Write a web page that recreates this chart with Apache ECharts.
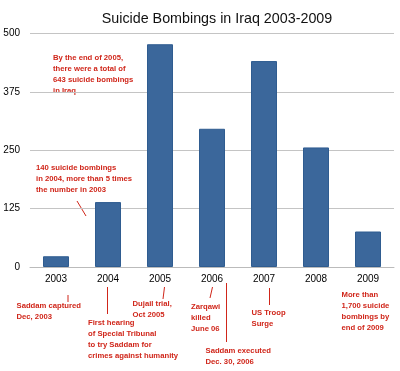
<!DOCTYPE html>
<html>
<head>
<meta charset="utf-8">
<script src="https://cdn.jsdelivr.net/npm/echarts@6/dist/echarts.min.js"></script>
<style>
html,body{margin:0;padding:0;background:#fff;}
#c{width:400px;height:371px;}
</style>
</head>
<body>
<div id="c"></div>
<script>
var categories = ['2003', '2004', '2005', '2006', '2007', '2008', '2009'];
var bombings = [23, 139, 477, 296, 441, 256, 76];
var yTicks = [0, 125, 250, 375, 500];
var titleText = 'Suicide Bombings in Iraq 2003-2009';

var noteTexts = [
  'By the end of 2005,\nthere were a total of\n643 suicide bombings\nin Iraq',
  '140 suicide bombings\nin 2004, more than 5 times\nthe number in 2003',
  'Saddam captured\nDec, 2003',
  'First hearing\nof Special Tribunal\nto try Saddam for\ncrimes against humanity',
  'Dujail trial,\nOct 2005',
  'Zarqawi\nkilled\nJune 06',
  'Saddam executed\nDec. 30, 2006',
  'US Troop\nSurge',
  'More than\n1,700 suicide\nbombings by\nend of 2009'
];

var RED = '#d0261a';
var notePos = [[53, 52], [36, 162.5], [16.5, 300.5], [88, 317.5], [132.5, 298], [191, 301.5], [205.5, 345], [251.5, 307], [341.5, 289.5]];
var leaders = [
  [77, 201, 86, 216],
  [68, 295, 68, 302],
  [107.5, 287, 107.5, 314],
  [164.5, 287, 163, 299],
  [212.5, 287, 210, 298],
  [226.5, 283, 226.5, 342],
  [269.5, 288, 269.5, 305]
];

var graphics = [];
noteTexts.forEach(function (t, i) {
  graphics.push({
    type: 'text', left: notePos[i][0], top: notePos[i][1], silent: true,
    style: { text: t, fill: RED, fontSize: 7.7, fontWeight: 'bold', fontFamily: 'Arial, Liberation Sans, sans-serif', lineHeight: 11 }
  });
});
leaders.forEach(function (l) {
  graphics.push({
    type: 'line', silent: true,
    shape: { x1: l[0], y1: l[1], x2: l[2], y2: l[3] },
    style: { stroke: RED, lineWidth: 1 }
  });
});

var chart = echarts.init(document.getElementById('c'), null, { renderer: 'canvas' });
chart.setOption({
  animation: false,
  backgroundColor: '#fff',
  title: {
    text: titleText, left: 212, top: 7, textAlign: 'center',
    textStyle: { fontSize: 14.3, fontWeight: 'normal', color: '#111', fontFamily: 'Arial, Liberation Sans, sans-serif' }
  },
  grid: { left: 30, right: 6, top: 33.5, bottom: 104, containLabel: false },
  xAxis: {
    type: 'category', data: categories,
    axisLine: { show: true, lineStyle: { color: '#bbb', width: 1 } },
    axisTick: { show: false },
    axisLabel: { color: '#000', fontSize: 10, margin: 7, fontFamily: 'Arial, Liberation Sans, sans-serif' }
  },
  yAxis: {
    type: 'value', min: yTicks[0], max: yTicks[yTicks.length - 1], interval: yTicks[1] - yTicks[0],
    axisLine: { show: false }, axisTick: { show: false },
    splitLine: { lineStyle: { color: '#c4c4c4', width: 1 } },
    axisLabel: { color: '#000', fontSize: 10, margin: 10, fontFamily: 'Arial, Liberation Sans, sans-serif' }
  },
  series: [{
    type: 'bar', data: bombings, barWidth: '50%',
    itemStyle: { color: '#3b679b', borderColor: '#2f5c90', borderWidth: 1 }
  }],
  graphic: graphics
});
</script>
</body>
</html>
